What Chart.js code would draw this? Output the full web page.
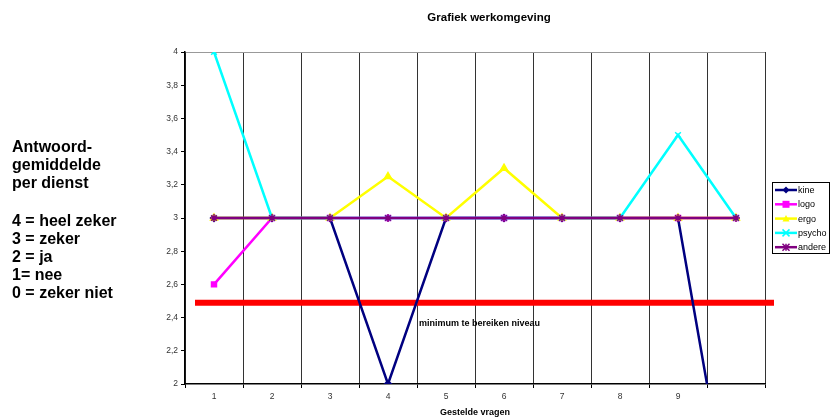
<!DOCTYPE html>
<html>
<head>
<meta charset="utf-8">
<script src="https://cdn.jsdelivr.net/npm/chart.js@4.4.0/dist/chart.umd.min.js"></script>
<style>
  html, body { margin: 0; padding: 0; background: #fff; }
  #werkomgeving__canvas { display: block; }
</style>
</head>
<body>
<canvas id="werkomgeving__canvas" width="830" height="420"></canvas>
<script>
const vragen = ["1", "2", "3", "4", "5", "6", "7", "8", "9", ""];

const kine = [3, 3, 3, 2, 3, 3, 3, 3, 3, 1];
const logo = [2.6, 3, 3, 3, 3, 3, 3, 3, 3, 3];
const ergo = [3, 3, 3, 3.25, 3, 3.3, 3, 3, 3, 3];
const psycho = [4, 3, 3, 3, 3, 3, 3, 3, 3.5, 3];
const andere = [3, 3, 3, 3, 3, 3, 3, 3, 3, 3];

const minimumNiveau = 2.49;

const legendeTekst = [
  "Antwoord-",
  "gemiddelde",
  "per dienst",
  "4 = heel zeker",
  "3 = zeker",
  "2 = ja",
  "1= nee",
  "0 = zeker niet",
];

const FONT = "'Liberation Sans', Arial, Helvetica, sans-serif";

function makeDataset(label, data, color, pointStyle, radius, order) {
  return {
    label: label,
    data: data,
    borderColor: color,
    backgroundColor: color,
    pointBackgroundColor: color,
    pointBorderColor: color,
    borderWidth: 2.5,
    pointStyle: pointStyle,
    pointRadius: radius,
    pointBorderWidth: 1.5,
    tension: 0,
    order: order,
  };
}

// teken een marker zoals in de grafiek
function drawMarker(ctx, style, x, y, r, color) {
  ctx.save();
  ctx.fillStyle = color;
  ctx.strokeStyle = color;
  ctx.lineWidth = 1.5;
  ctx.beginPath();
  if (style === "rectRot") {
    ctx.moveTo(x, y - r);
    ctx.lineTo(x + r, y);
    ctx.lineTo(x, y + r);
    ctx.lineTo(x - r, y);
    ctx.closePath();
    ctx.fill();
  } else if (style === "rect") {
    ctx.fillRect(x - r, y - r, 2 * r, 2 * r);
  } else if (style === "triangle") {
    ctx.moveTo(x, y - r);
    ctx.lineTo(x + r, y + r * 0.8);
    ctx.lineTo(x - r, y + r * 0.8);
    ctx.closePath();
    ctx.fill();
  } else if (style === "crossRot") {
    ctx.moveTo(x - r, y - r);
    ctx.lineTo(x + r, y + r);
    ctx.moveTo(x + r, y - r);
    ctx.lineTo(x - r, y + r);
    ctx.stroke();
  } else if (style === "star") {
    ctx.moveTo(x - r, y - r);
    ctx.lineTo(x + r, y + r);
    ctx.moveTo(x + r, y - r);
    ctx.lineTo(x - r, y + r);
    ctx.moveTo(x, y - r);
    ctx.lineTo(x, y + r);
    ctx.stroke();
  }
  ctx.restore();
}

const tekstPlugin = {
  id: "tekstPlugin",
  beforeDatasetsDraw(chart) {
    const ctx = chart.ctx;
    const y = chart.scales.y;
    const area = chart.chartArea;
    const py = y.getPixelForValue(minimumNiveau);
    ctx.save();
    ctx.strokeStyle = "#ff0000";
    ctx.lineWidth = 6;
    ctx.beginPath();
    ctx.moveTo(area.left + 10, py);
    ctx.lineTo(area.right + 9, py);
    ctx.stroke();
    ctx.restore();
  },
  afterDraw(chart) {
    const ctx = chart.ctx;
    const x = chart.scales.x;
    const y = chart.scales.y;
    const area = chart.chartArea;
    ctx.save();

    // titel
    ctx.fillStyle = "#000";
    ctx.font = "bold 11.5px " + FONT;
    ctx.textAlign = "center";
    ctx.textBaseline = "alphabetic";
    ctx.fillText("Grafiek werkomgeving", 489, 21);

    // tekst bij de rode lijn
    ctx.font = "bold 9px " + FONT;
    ctx.textAlign = "left";
    const grens = (x.getPixelForValue(3) + x.getPixelForValue(4)) / 2;
    ctx.fillText("minimum te bereiken niveau", grens + 2, y.getPixelForValue(minimumNiveau) + 23);

    // uitleg links
    ctx.font = "bold 16px " + FONT;
    const regels = [152, 170, 188, 226, 244, 262, 280, 298];
    legendeTekst.forEach((regel, i) => {
      ctx.fillText(regel, 12, regels[i]);
    });

    // legende
    const left = area.right + 7;
    const top = 182;
    ctx.strokeStyle = "#000";
    ctx.lineWidth = 1;
    ctx.strokeRect(left + 0.5, top + 0.5, 57, 71);
    ctx.font = "9px " + FONT;
    ctx.textBaseline = "middle";
    chart.data.datasets.forEach((ds, i) => {
      const ly = top + 8 + i * 14.3;
      ctx.strokeStyle = ds.borderColor;
      ctx.lineWidth = 2.5;
      ctx.beginPath();
      ctx.moveTo(left + 3, ly);
      ctx.lineTo(left + 25, ly);
      ctx.stroke();
      drawMarker(ctx, ds.pointStyle, left + 14, ly, 3.5, ds.borderColor);
      ctx.fillStyle = "#000";
      ctx.fillText(ds.label, left + 26, ly + 0.5);
    });
    ctx.restore();
  },
};

function formatTick(value) {
  return String(Number(value.toFixed(1))).replace(".", ",");
}

function makeChart() {
  const CANVAS_CTX = document.getElementById("werkomgeving__canvas").getContext("2d");
  const chart = new Chart(CANVAS_CTX, {
    type: "line",
    data: {
      labels: vragen,
      datasets: [
        makeDataset("kine", kine, "#000080", "rectRot", 3.5, 5),
        makeDataset("logo", logo, "#ff00ff", "rect", 3.5, 4),
        makeDataset("ergo", ergo, "#ffff00", "triangle", 4, 3),
        makeDataset("psycho", psycho, "#00ffff", "crossRot", 4, 2),
        makeDataset("andere", andere, "#800080", "star", 4, 1),
      ],
    },
    options: {
      responsive: false,
      animation: false,
      layout: {
        padding: { left: 150, top: 52, right: 65, bottom: 0 },
      },
      plugins: {
        legend: { display: false },
        title: { display: false },
        tooltip: { enabled: false },
      },
      scales: {
        x: {
          offset: true,
          grid: {
            offset: true,
            color: "#333",
            lineWidth: 1,
            tickLength: 4,
            tickColor: "#000",
          },
          border: { color: "#000", width: 1.5 },
          ticks: {
            color: "#333",
            font: { family: FONT, size: 8.5 },
            padding: 4,
            maxRotation: 0,
            autoSkip: false,
          },
          title: {
            display: true,
            text: "Gestelde vragen",
            color: "#000",
            font: { family: FONT, size: 9, weight: "bold" },
            padding: { top: 0, bottom: 2 },
          },
          afterFit(scale) {
            scale.height = 36;
          },
        },
        y: {
          min: 2,
          max: 4,
          grid: {
            color: (ctx) => (ctx.tick && ctx.tick.value === 4 ? "#999" : "rgba(0,0,0,0)"),
            tickColor: "#000",
            tickLength: 4,
          },
          border: { color: "#000", width: 1.5 },
          ticks: {
            stepSize: 0.2,
            color: "#333",
            font: { family: FONT, size: 8.5 },
            padding: 3,
            callback: (value) => formatTick(value),
          },
          afterFit(scale) {
            scale.width = 35;
          },
        },
      },
    },
    plugins: [tekstPlugin],
  });
  return chart;
}

makeChart();
</script>
</body>
</html>
